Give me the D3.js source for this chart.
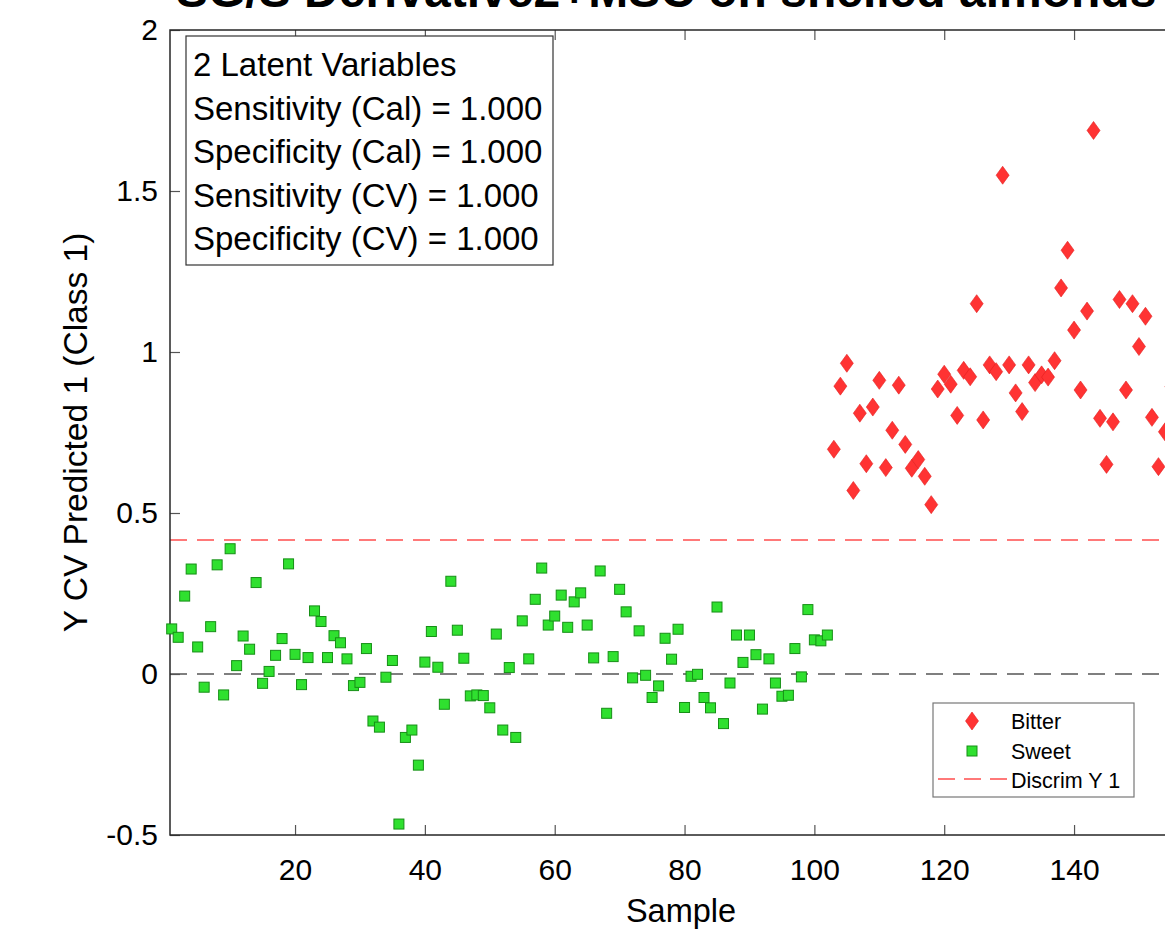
<!DOCTYPE html>
<html>
<head>
<meta charset="utf-8">
<script src="https://cdn.jsdelivr.net/npm/d3@7"></script>
<style>
  body { margin: 0; background: #fff; }
  svg { display: block; font-family: "Liberation Sans", Arial, sans-serif; }
  .axis line { stroke: #555; stroke-width: 1.2; }
  .axis text { font-family: "Liberation Sans", Arial, sans-serif; fill: #000; }
</style>
</head>
<body>
<svg id="chart"></svg>
<script>
// ---- data (sample index = position in array + first sample) ----
const sweetFirst = 1
const sweetY = [
  0.140, 0.114, 0.242, 0.326, 0.084, -0.041, 0.147, 0.339, -0.065, 0.389,
  0.026, 0.118, 0.077, 0.284, -0.029, 0.008, 0.058, 0.110, 0.342, 0.061,
  -0.033, 0.051, 0.196, 0.163, 0.051, 0.119, 0.097, 0.047, -0.036, -0.026,
  0.079, -0.146, -0.165, -0.010, 0.042, -0.466, -0.197, -0.174, -0.283, 0.037,
  0.132, 0.021, -0.094, 0.288, 0.136, 0.049, -0.068, -0.065, -0.067, -0.105,
  0.124, -0.174, 0.020, -0.197, 0.165, 0.047, 0.232, 0.329, 0.152, 0.180,
  0.245, 0.145, 0.224, 0.252, 0.152, 0.050, 0.320, -0.122, 0.054, 0.263,
  0.193, -0.012, 0.134, -0.004, -0.073, -0.037, 0.111, 0.046, 0.139, -0.104,
  -0.007, -0.001, -0.073, -0.105, 0.208, -0.154, -0.028, 0.121, 0.036, 0.121,
  0.060, -0.109, 0.047, -0.028, -0.069, -0.066, 0.079, -0.009, 0.200, 0.106,
  0.103, 0.121
]
const bitterFirst = 103
const bitterY = [
  0.698, 0.894, 0.965, 0.570, 0.810, 0.653, 0.829, 0.912, 0.641, 0.757,
  0.897, 0.713, 0.639, 0.666, 0.614, 0.526, 0.885, 0.931, 0.900, 0.803,
  0.943, 0.923, 1.150, 0.789, 0.960, 0.939, 1.549, 0.960, 0.873, 0.815,
  0.960, 0.905, 0.929, 0.922, 0.973, 1.199, 1.316, 1.068, 0.882, 1.127,
  1.688, 0.794, 0.651, 0.783, 1.163, 0.882, 1.150, 1.017, 1.111, 0.797,
  0.644, 0.752, 0.892
]
const discrimY = 0.416
const xTicks = [20, 40, 60, 80, 100, 120, 140]
const yTicks = [-0.5, 0, 0.5, 1, 1.5, 2]
const xDomain = [1, 158]
const yDomain = [-0.5, 2]
const infoLines = [
  '2 Latent Variables',
  'Sensitivity (Cal) = 1.000',
  'Specificity (Cal) = 1.000',
  'Sensitivity (CV) = 1.000',
  'Specificity (CV) = 1.000'
]
const legendLabels = ['Bitter', 'Sweet', 'Discrim Y 1']
const titleText = 'SG/S Derivative2+MSC on shelled almonds'

// ---- layout ----
const width = 1165
const height = 930
const plotLeft = 170, plotTop = 30, plotBottom = 835, plotRight = 1191

const chart = d3.select('#chart').attr('width', width).attr('height', height)

const xScale = d3.scaleLinear().domain(xDomain).range([171.7, 1190.9])
const yScale = d3.scaleLinear().domain(yDomain).range([plotBottom, plotTop])

// title (mostly cut off at top, as in the source image)
chart.append('text')
  .attr('x', 176).attr('y', 7)
  .attr('font-size', 48).attr('font-weight', 'bold')
  .text(titleText)

// reference lines
chart.append('line')
  .attr('x1', plotLeft).attr('x2', plotRight)
  .attr('y1', yScale(0)).attr('y2', yScale(0))
  .attr('stroke', '#555').attr('stroke-width', 1.5)
  .attr('stroke-dasharray', '17,10')

chart.append('line')
  .attr('x1', plotLeft).attr('x2', plotRight)
  .attr('y1', yScale(discrimY)).attr('y2', yScale(discrimY))
  .attr('stroke', '#ff4d4d').attr('stroke-width', 1.5)
  .attr('stroke-dasharray', '17,10')

// axes, ticks pointing inward
const xAxis = d3.axisBottom(xScale).tickValues(xTicks).tickSize(-10).tickPadding(24)
chart.append('g').attr('class', 'axis')
  .attr('transform', `translate(0, ${plotBottom})`)
  .call(xAxis)
  .call(g => g.select('.domain').remove())
  .selectAll('text').attr('font-size', 30)

chart.append('g').attr('class', 'axis')
  .attr('transform', `translate(0, ${plotTop})`)
  .call(d3.axisTop(xScale).tickValues(xTicks).tickSize(-10).tickFormat(''))
  .call(g => g.select('.domain').remove())

const yAxis = d3.axisLeft(yScale).tickValues(yTicks).tickSize(-10).tickPadding(12)
  .tickFormat(d => d)
chart.append('g').attr('class', 'axis')
  .attr('transform', `translate(${plotLeft}, 0)`)
  .call(yAxis)
  .call(g => g.select('.domain').remove())
  .selectAll('text').attr('font-size', 30)

// plot frame
chart.append('rect')
  .attr('x', plotLeft).attr('y', plotTop)
  .attr('width', plotRight - plotLeft).attr('height', plotBottom - plotTop)
  .attr('fill', 'none').attr('stroke', '#262626').attr('stroke-width', 1.5)

// axis labels
chart.append('text')
  .attr('x', 681).attr('y', 922)
  .attr('text-anchor', 'middle').attr('font-size', 32.5)
  .text('Sample')

chart.append('text')
  .attr('transform', `translate(87, ${(plotTop + plotBottom) / 2}) rotate(-90)`)
  .attr('text-anchor', 'middle').attr('font-size', 33.5)
  .text('Y CV Predicted 1 (Class 1)')

// markers
const diamond = 'M0,-9L6.5,0L0,9L-6.5,0Z'

chart.append('g').selectAll('rect')
  .data(sweetY)
  .join('rect')
  .attr('x', (d, i) => xScale(sweetFirst + i) - 5)
  .attr('y', d => yScale(d) - 5)
  .attr('width', 10).attr('height', 10)
  .attr('fill', '#2fe02f').attr('stroke', '#168f16').attr('stroke-width', 1)

chart.append('g').selectAll('path')
  .data(bitterY)
  .join('path')
  .attr('d', diamond)
  .attr('transform', (d, i) => `translate(${xScale(bitterFirst + i)}, ${yScale(d)})`)
  .attr('fill', '#ff3333').attr('stroke', '#e01e1e').attr('stroke-width', 0.6)

// info box
const info = chart.append('g')
info.append('rect')
  .attr('x', 186).attr('y', 36).attr('width', 367).attr('height', 229)
  .attr('fill', '#fff').attr('stroke', '#333').attr('stroke-width', 1.2)
info.selectAll('text')
  .data(infoLines)
  .join('text')
  .attr('x', 193)
  .attr('y', (d, i) => 76 + i * 43.5)
  .attr('font-size', 33)
  .text(d => d)

// legend
const legend = chart.append('g')
legend.append('rect')
  .attr('x', 933).attr('y', 703).attr('width', 201).attr('height', 94)
  .attr('fill', '#fff').attr('stroke', '#777').attr('stroke-width', 1.2)
legend.append('path')
  .attr('d', diamond)
  .attr('transform', 'translate(972, 721)')
  .attr('fill', '#ff3333').attr('stroke', '#e01e1e').attr('stroke-width', 0.6)
legend.append('rect')
  .attr('x', 967).attr('y', 746).attr('width', 10).attr('height', 10)
  .attr('fill', '#2fe02f').attr('stroke', '#168f16').attr('stroke-width', 1)
legend.append('line')
  .attr('x1', 938).attr('x2', 1007).attr('y1', 779).attr('y2', 779)
  .attr('stroke', '#ff4d4d').attr('stroke-width', 1.3)
  .attr('stroke-dasharray', '17,9')
legend.selectAll('text.lab')
  .data(legendLabels)
  .join('text')
  .attr('class', 'lab')
  .attr('x', 1011)
  .attr('y', (d, i) => 729 + i * 29.5)
  .attr('font-size', 21.5)
  .text(d => d)
</script>
</body>
</html>
